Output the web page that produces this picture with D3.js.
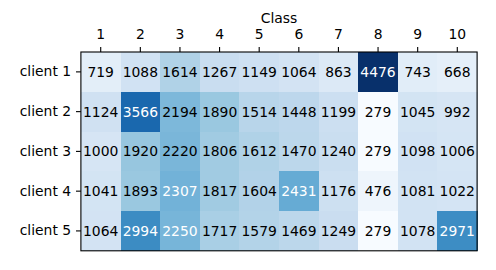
<!DOCTYPE html>
<html><head><meta charset="utf-8">
<script src="https://cdn.jsdelivr.net/npm/d3@7"></script>
<style>body{margin:0;background:#fff;} text{font-family:"DejaVu Sans",sans-serif;}</style>
</head><body><svg id="c" width="496" height="270"></svg>
<script>
const classes = ["1","2","3","4","5","6","7","8","9","10"];
const clients = ["client 1","client 2","client 3","client 4","client 5"];
const values = [
  [719,1088,1614,1267,1149,1064,863,4476,743,668],
  [1124,3566,2194,1890,1514,1448,1199,279,1045,992],
  [1000,1920,2220,1806,1612,1470,1240,279,1098,1006],
  [1041,1893,2307,1817,1604,2431,1176,476,1081,1022],
  [1064,2994,2250,1717,1579,1469,1249,279,1078,2971]
];
const blues = ["#f7fbff","#deebf7","#c6dbef","#9ecae1","#6baed6","#4292c6","#2171b5","#08519c","#08306b"];

const svg = d3.select("#c");
const L = 80.9, R = 477.1, T = 52, B = 250.8;
const x = d3.scaleBand().domain(classes).range([L, R]);
const y = d3.scaleBand().domain(clients).range([T, B]);
const flat = values.flat();
const vmin = d3.min(flat), vmax = d3.max(flat);
const norm = d3.scaleLinear().domain([vmin, vmax]).range([0, 1]);
const interp = d3.piecewise(d3.interpolateRgb, blues);
const color = v => interp(Math.floor(norm(v) * 255.999) / 255);
const thresh = vmax / 2;

const cells = [];
values.forEach((row, i) => row.forEach((v, j) => cells.push({r: clients[i], c: classes[j], v})));

svg.append("g").selectAll("rect").data(cells).join("rect")
  .attr("x", d => x(d.c)).attr("y", d => y(d.r))
  .attr("width", x.bandwidth() + 0.5).attr("height", y.bandwidth() + 0.5)
  .attr("fill", d => color(d.v)).attr("shape-rendering", "crispEdges");

svg.append("g").selectAll("text").data(cells).join("text")
  .attr("x", d => x(d.c) + x.bandwidth() / 2)
  .attr("y", d => y(d.r) + y.bandwidth() / 2)
  .attr("text-anchor", "middle").attr("dy", "0.36em")
  .attr("font-size", "13.9px")
  .attr("fill", d => d.v > thresh ? "#ffffff" : "#000000")
  .text(d => d.v);

svg.append("rect").attr("x", L).attr("y", T).attr("width", R - L).attr("height", B - T)
  .attr("fill", "none").attr("stroke", "#000").attr("stroke-width", 1.1);

const xAxis = svg.append("g").attr("transform", `translate(0,${T})`)
  .call(d3.axisTop(x).tickSize(4.9).tickPadding(8.2));
const yAxis = svg.append("g").attr("transform", `translate(${L},0)`)
  .call(d3.axisLeft(y).tickSize(4.9).tickPadding(4.9));
[xAxis, yAxis].forEach(a => {
  a.select(".domain").remove();
  a.selectAll(".tick line").attr("stroke", "#000").attr("stroke-width", 1.1);
  a.selectAll(".tick text").attr("font-size", "13.9px").attr("fill", "#000")
    .attr("font-family", "DejaVu Sans, sans-serif");
});

svg.append("text").attr("x", (L + R) / 2).attr("y", 23)
  .attr("text-anchor", "middle").attr("font-size", "13.9px").text("Class");
</script></body></html>
